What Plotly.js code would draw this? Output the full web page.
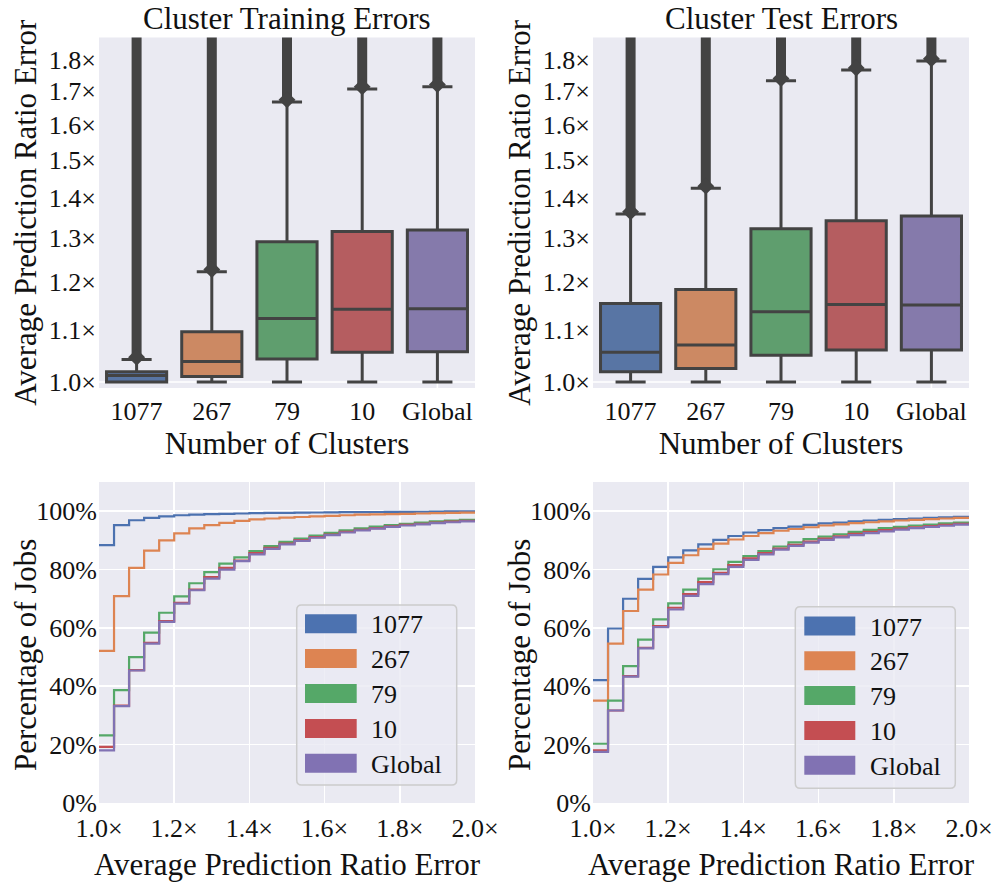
<!DOCTYPE html>
<html><head><meta charset="utf-8">
<script src="https://cdn.plot.ly/plotly-3.0.1.min.js"></script>
<style>html,body{margin:0;padding:0;background:#fff}#chart{width:992px;height:883px}</style>
</head><body><div id="chart"></div>
<script>
// ---------------- data ----------------
const categories = ['1077', '267', '79', '10', 'Global'];
const seriesNames = ['1077', '267', '79', '10', 'Global'];

// Cluster training errors (box statistics)
const trainLowerFence = [1.000, 1.000, 1.000, 1.000, 1.000];
const trainQ1         = [1.000, 1.010, 1.043, 1.056, 1.057];
const trainMedian     = [1.012, 1.038, 1.123, 1.142, 1.143];
const trainQ3         = [1.019, 1.096, 1.292, 1.316, 1.320];
const trainUpperFence = [1.042, 1.223, 1.667, 1.707, 1.714];
const trainOutlierMax = [4.0, 4.0, 4.0, 4.0, 4.0];

// Cluster test errors (box statistics)
const testLowerFence = [1.000, 1.000, 1.000, 1.000, 1.000];
const testQ1         = [1.019, 1.025, 1.050, 1.060, 1.060];
const testMedian     = [1.056, 1.070, 1.137, 1.152, 1.151];
const testQ3         = [1.154, 1.184, 1.323, 1.342, 1.354];
const testUpperFence = [1.359, 1.424, 1.733, 1.767, 1.797];
const testOutlierMax = [4.0, 4.0, 4.0, 4.0, 4.0];

// CDF bin edges (average prediction ratio error)
const binEdges = [1.00, 1.04, 1.08, 1.12, 1.16, 1.20, 1.24, 1.28, 1.32, 1.36, 1.40, 1.44, 1.48,
                  1.52, 1.56, 1.60, 1.64, 1.68, 1.72, 1.76, 1.80, 1.84, 1.88, 1.92, 1.96, 2.00];

// Training CDF (% of jobs)
const trainCdf1077   = [88.4, 95.2, 96.9, 97.7, 98.2, 98.6, 98.8, 99.0, 99.1, 99.2, 99.3, 99.4, 99.45,
                        99.5, 99.55, 99.6, 99.65, 99.7, 99.72, 99.75, 99.78, 99.8, 99.85, 99.9, 99.95, 99.95];
const trainCdf267    = [52.1, 70.9, 80.6, 86.5, 90.0, 92.4, 94.1, 95.2, 96.0, 96.7, 97.2, 97.5, 97.8,
                        98.0, 98.2, 98.4, 98.6, 98.8, 98.9, 99.0, 99.1, 99.2, 99.3, 99.4, 99.5, 99.5];
const trainCdf79     = [23.2, 38.7, 50.0, 58.4, 65.2, 70.8, 75.3, 79.1, 82.0, 84.2, 86.3, 88.0, 89.5,
                        90.6, 91.6, 92.6, 93.4, 94.1, 94.7, 95.2, 95.7, 96.1, 96.5, 96.8, 97.0, 97.0];
const trainCdf10     = [19.2, 33.4, 45.5, 54.9, 62.3, 68.6, 73.1, 77.4, 80.6, 83.1, 85.6, 87.4, 88.9,
                        90.1, 91.1, 92.0, 92.9, 93.6, 94.2, 94.8, 95.3, 95.7, 96.1, 96.4, 96.7, 96.7];
const trainCdfGlobal = [18.0, 33.2, 45.4, 54.6, 62.1, 68.3, 72.9, 76.9, 80.0, 82.9, 85.2, 87.1, 88.6,
                        89.8, 90.9, 91.8, 92.7, 93.4, 94.0, 94.6, 95.1, 95.5, 95.9, 96.2, 96.5, 96.5];

// Test CDF (% of jobs)
const testCdf1077   = [42.1, 59.8, 70.0, 76.8, 80.9, 84.2, 86.6, 88.6, 90.2, 91.5, 92.7, 93.5, 94.2,
                       94.7, 95.3, 95.8, 96.1, 96.5, 96.8, 97.0, 97.3, 97.5, 97.7, 97.9, 98.1, 98.1];
const testCdf267    = [35.1, 54.6, 65.8, 73.1, 78.3, 82.3, 84.9, 87.1, 88.9, 90.3, 91.5, 92.5, 93.3,
                       93.9, 94.5, 95.1, 95.5, 95.9, 96.2, 96.5, 96.8, 97.0, 97.3, 97.5, 97.7, 97.7];
const testCdf79     = [20.3, 35.1, 46.9, 56.0, 62.9, 68.4, 73.1, 76.9, 80.1, 82.6, 84.6, 86.3, 87.9,
                       89.3, 90.4, 91.3, 92.1, 92.9, 93.6, 94.2, 94.6, 95.1, 95.4, 95.8, 96.1, 96.1];
const testCdf10     = [18.0, 31.7, 43.5, 53.2, 60.6, 66.9, 71.6, 75.7, 78.9, 81.5, 83.8, 85.6, 87.2,
                       88.5, 89.6, 90.6, 91.4, 92.2, 92.9, 93.5, 94.0, 94.5, 94.9, 95.3, 95.7, 95.7];
const testCdfGlobal = [17.5, 31.7, 43.3, 53.0, 60.3, 66.3, 71.0, 75.0, 78.4, 80.9, 83.3, 85.2, 86.8,
                       88.1, 89.2, 90.2, 91.0, 91.8, 92.5, 93.1, 93.7, 94.2, 94.6, 95.0, 95.4, 95.4];

const boxTickVals = [1.0, 1.1, 1.2, 1.3, 1.4, 1.5, 1.6, 1.7, 1.8];
const boxTickText = ['1.0×', '1.1×', '1.2×', '1.3×', '1.4×', '1.5×', '1.6×', '1.7×', '1.8×'];

// ---------------- styling ----------------
const W = 992, H = 883;
const FONT = '"Liberation Serif", "Times New Roman", Times, serif';
const lineColors = ['#4C72B0', '#DD8452', '#55A868', '#C44E52', '#8172B3'];
const boxFills   = ['#5875A4', '#CC8963', '#5F9E6E', '#B55D60', '#857AAB'];
const GRAY = '#434343';
const BG = '#EAEAF2';
const px = x => x / W;
const py = y => 1 - y / H;

const traces = [];

function addBoxes(xa, ya, lf, q1, med, q3, uf, omax) {
  categories.forEach((c, i) => {
    traces.push({
      type: 'box', xaxis: xa, yaxis: ya, x: [c],
      lowerfence: [lf[i]], q1: [q1[i]], median: [med[i]], q3: [q3[i]], upperfence: [uf[i]],
      fillcolor: boxFills[i], line: {color: GRAY, width: 3}, whiskerwidth: 0.5,
      boxpoints: false, showlegend: false, hoverinfo: 'skip', name: c
    });
    traces.push({
      type: 'scatter', mode: 'lines', xaxis: xa, yaxis: ya, x: [c, c], y: [uf[i] * 1.004, omax[i]],
      line: {color: GRAY, width: 10}, showlegend: false, hoverinfo: 'skip'
    });
    traces.push({
      type: 'scatter', mode: 'markers', xaxis: xa, yaxis: ya, x: [c], y: [uf[i] * 1.004],
      marker: {symbol: 'diamond', size: 13, color: GRAY}, showlegend: false, hoverinfo: 'skip', cliponaxis: true
    });
  });
}
addBoxes('x', 'y', trainLowerFence, trainQ1, trainMedian, trainQ3, trainUpperFence, trainOutlierMax);
addBoxes('x2', 'y2', testLowerFence, testQ1, testMedian, testQ3, testUpperFence, testOutlierMax);

const trainCdfs = [trainCdf1077, trainCdf267, trainCdf79, trainCdf10, trainCdfGlobal];
const testCdfs  = [testCdf1077, testCdf267, testCdf79, testCdf10, testCdfGlobal];
trainCdfs.forEach((s, i) => traces.push({
  type: 'scatter', mode: 'lines', xaxis: 'x3', yaxis: 'y3', x: binEdges, y: s,
  line: {shape: 'hv', color: lineColors[i], width: 2.2}, name: seriesNames[i], showlegend: false
}));
testCdfs.forEach((s, i) => traces.push({
  type: 'scatter', mode: 'lines', xaxis: 'x4', yaxis: 'y4', x: binEdges, y: s,
  line: {shape: 'hv', color: lineColors[i], width: 2.2}, name: seriesNames[i], showlegend: false
}));

const xdomL = [px(99), px(475)];
const xdomR = [px(593), px(969)];
const ydomT = [py(388), py(37.5)];
const ydomB = [py(803), py(482)];
const tickFont = {family: FONT, size: 26, color: '#111'};
const titleFont = {family: FONT, size: 31, color: '#111'};

function catAxis(dom, anchor) {
  return {domain: dom, anchor: anchor, type: 'category', categoryarray: categories, categoryorder: 'array',
    range: [-0.5, 4.5], showgrid: false, zeroline: false, showline: false, ticks: '',
    tickfont: tickFont, ticklabelstandoff: 5, fixedrange: true,
    title: {text: 'Number of Clusters', font: titleFont, standoff: 5}};
}
function logAxis(dom, anchor) {
  return {domain: dom, anchor: anchor, type: 'log', range: [-0.00476, 0.2731],
    tickvals: boxTickVals, ticktext: boxTickText, showgrid: false, zeroline: false, showline: false,
    ticks: '', tickfont: tickFont, ticklabelstandoff: 2, fixedrange: true,
    title: {text: 'Average Prediction Ratio Error', font: titleFont, standoff: 2}};
}
function ratioAxis(dom, anchor) {
  return {domain: dom, anchor: anchor, range: [1, 2], dtick: 0.2, tick0: 1, tickformat: '.1f', ticksuffix: '×',
    showgrid: true, gridcolor: '#ffffff', gridwidth: 1.6, zeroline: false, showline: false, ticks: '',
    tickfont: tickFont, ticklabelstandoff: 7, ticklabeloverflow: 'allow', fixedrange: true,
    title: {text: 'Average Prediction Ratio Error', font: titleFont, standoff: 11}};
}
function pctAxis(dom, anchor) {
  return {domain: dom, anchor: anchor, range: [0, 110], dtick: 20, tick0: 0, ticksuffix: '%',
    showgrid: true, gridcolor: '#ffffff', gridwidth: 1.6, zeroline: false, showline: false, ticks: '',
    tickfont: tickFont, ticklabelstandoff: 1, fixedrange: true};
}

const shapes = [];
const annotations = [];

// grid line at 1.0x and the short category grid stubs below it (top panels)
[['x', 'y'], ['x2', 'y2']].forEach(([xa, ya]) => {
  shapes.push({type: 'line', xref: xa + ' domain', yref: ya, x0: 0, x1: 1, y0: 1, y1: 1,
    line: {color: '#ffffff', width: 1.6}, layer: 'below'});
  categories.forEach(c => shapes.push({type: 'line', xref: xa, yref: ya, x0: c, x1: c, y0: 0.97, y1: 1,
    line: {color: '#ffffff', width: 1.6}, layer: 'below'}));
});

// subplot titles
annotations.push({text: 'Cluster Training Errors', xref: 'paper', yref: 'paper', x: px(287), y: py(18),
  xanchor: 'center', yanchor: 'middle', showarrow: false, font: titleFont});
annotations.push({text: 'Cluster Test Errors', xref: 'paper', yref: 'paper', x: px(781), y: py(18),
  xanchor: 'center', yanchor: 'middle', showarrow: false, font: titleFont});

// y-axis titles of the CDF panels
[25, 519].forEach(xc => annotations.push({text: 'Percentage of Jobs', xref: 'paper', yref: 'paper',
  x: px(xc), y: py(655), xanchor: 'center', yanchor: 'middle', textangle: -90, showarrow: false, font: titleFont}));

// legends drawn inside the CDF panels
function roundRect(x0, y0, x1, y1, r) {
  const X = v => px(v), Y = v => py(v);
  return `M${X(x0 + r)},${Y(y0)} L${X(x1 - r)},${Y(y0)} Q${X(x1)},${Y(y0)} ${X(x1)},${Y(y0 + r)} ` +
    `L${X(x1)},${Y(y1 - r)} Q${X(x1)},${Y(y1)} ${X(x1 - r)},${Y(y1)} L${X(x0 + r)},${Y(y1)} ` +
    `Q${X(x0)},${Y(y1)} ${X(x0)},${Y(y1 - r)} L${X(x0)},${Y(y0 + r)} Q${X(x0)},${Y(y0)} ${X(x0 + r)},${Y(y0)} Z`;
}
function addLegend(box, swX0, swX1, firstCy, step, labelX) {
  shapes.push({type: 'path', xref: 'paper', yref: 'paper', path: roundRect(box[0], box[1], box[2], box[3], 5),
    fillcolor: 'rgba(234,234,242,0.8)', line: {color: '#cccccc', width: 1.5}, layer: 'above'});
  seriesNames.forEach((n, i) => {
    const cy = firstCy + i * step;
    shapes.push({type: 'rect', xref: 'paper', yref: 'paper', x0: px(swX0), x1: px(swX1),
      y0: py(cy + 9.5), y1: py(cy - 9.5), fillcolor: lineColors[i], line: {width: 0}, layer: 'above'});
    annotations.push({text: n, xref: 'paper', yref: 'paper', x: px(labelX), y: py(cy + 1),
      xanchor: 'left', yanchor: 'middle', showarrow: false, font: {family: FONT, size: 26, color: '#111'}});
  });
}
addLegend([296.7, 605, 456.7, 785], 305, 356.7, 623.7, 34.9, 369);
addLegend([795.3, 606.7, 955.3, 788.3], 804.3, 855.3, 626, 34.8, 867.5);

const layout = {
  width: W, height: H, margin: {l: 0, r: 0, t: 0, b: 0},
  paper_bgcolor: '#ffffff', plot_bgcolor: BG, showlegend: false,
  font: {family: FONT, color: '#111'},
  boxmode: 'overlay', boxgap: 0.2, boxgroupgap: 0,
  xaxis: catAxis(xdomL, 'y'), yaxis: logAxis(ydomT, 'x'),
  xaxis2: catAxis(xdomR, 'y2'), yaxis2: logAxis(ydomT, 'x2'),
  xaxis3: ratioAxis(xdomL, 'y3'), yaxis3: pctAxis(ydomB, 'x3'),
  xaxis4: ratioAxis(xdomR, 'y4'), yaxis4: pctAxis(ydomB, 'x4'),
  shapes: shapes, annotations: annotations
};

Plotly.newPlot('chart', traces, layout, {staticPlot: true, displayModeBar: false});
</script></body></html>
